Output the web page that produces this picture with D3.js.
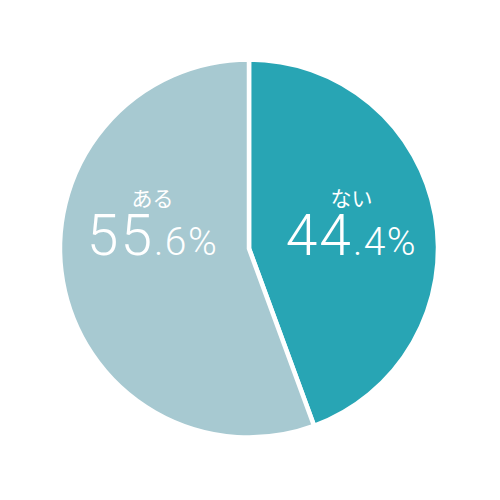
<!DOCTYPE html>
<html><head><meta charset="utf-8">
<script src="https://cdn.jsdelivr.net/npm/d3@7"></script>
<style>body{margin:0;background:#fff}</style>
</head><body>
<svg id="c" width="500" height="500"></svg>
<script>
const categories = ["ない", "ある"];
const values = [44.4, 55.6];
const intPart = ["44", "55"];
const decPart = [".4%", ".6%"];
const colors = ["#28a5b4", "#a7c9d1"];

const svg = d3.select("#c");
const cx = 249, cy = 248.5, R = 189;
const g = svg.append("g").attr("transform", `translate(${cx},${cy})`);
const pie = d3.pie().sort(null).value(d => d)(values);
const arc = d3.arc().innerRadius(0).outerRadius(R);
g.selectAll("path").data(pie).join("path")
  .attr("d", arc)
  .attr("fill", (d, i) => colors[i])
  .attr("stroke", "#fff").attr("stroke-width", 4.5).attr("stroke-linejoin", "miter");

const labArc = d3.arc().innerRadius(101).outerRadius(101);
pie.forEach((d, i) => {
  const x = labArc.centroid(d)[0] + 3;
  g.append("text").attr("x", x).attr("y", -43)
    .attr("text-anchor", "middle").attr("fill", "#fff")
    .attr("font-family", "'Noto Sans CJK JP', sans-serif").attr("font-size", 21)
    .text(categories[i]);
  const v = g.append("text").attr("x", x).attr("y", 6.5)
    .attr("text-anchor", "middle").attr("fill", "#fff")
    .attr("font-family", "Roboto, 'Open Sans', sans-serif").attr("font-weight", 300);
  v.append("tspan").attr("font-size", 57).attr("letter-spacing", 2).text(intPart[i]);
  v.append("tspan").attr("font-size", 39).attr("letter-spacing", 1.5).text(decPart[i]);
});
</script>
</body></html>
